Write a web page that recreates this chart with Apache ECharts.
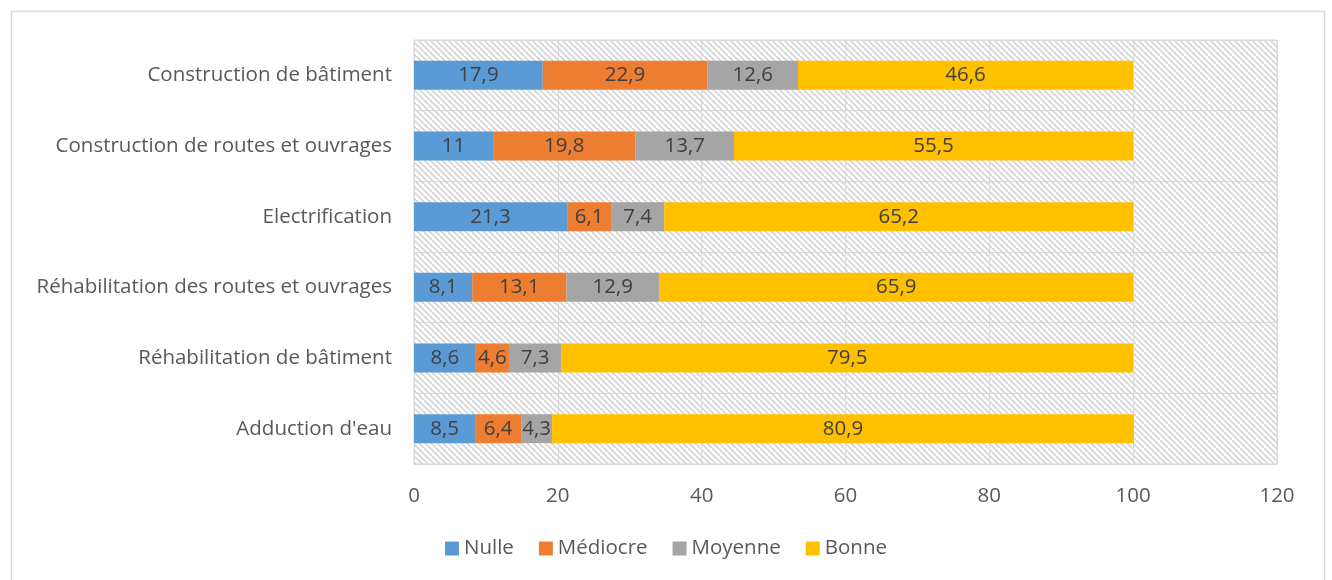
<!DOCTYPE html>
<html>
<head>
<meta charset="utf-8">
<script src="https://cdn.jsdelivr.net/npm/echarts@6/dist/echarts.min.js"></script>
<style>
  html, body { margin: 0; padding: 0; background: #fff; }
  #chart { width: 1332px; height: 580px; }
</style>
</head>
<body>
<div id="chart"></div>
<script>
// categories, top to bottom
const categories = [
  'Construction de bâtiment',
  'Construction de routes et ouvrages',
  'Electrification',
  'Réhabilitation des routes et ouvrages',
  'Réhabilitation de bâtiment',
  "Adduction d'eau"
];
const nulle    = [17.9, 11,   21.3, 8.1,  8.6,  8.5];
const mediocre = [22.9, 19.8, 6.1,  13.1, 4.6,  6.4];
const moyenne  = [12.6, 13.7, 7.4,  12.9, 7.3,  4.3];
const bonne    = [46.6, 55.5, 65.2, 65.9, 79.5, 80.9];
const seriesNames = ['Nulle', 'Médiocre', 'Moyenne', 'Bonne'];
const xTicks = [0, 20, 40, 60, 80, 100, 120];

const colors = ['#5B9BD5', '#ED7D31', '#A5A5A5', '#FFC000'];
const fontFamily = '"Open Sans", "Liberation Sans", sans-serif';
const textColor = '#595959';
const fontSize = 20.5;

// hatched plot background (diagonal light grey lines)
const hatch = document.createElement('canvas');
hatch.width = 6;
hatch.height = 6;
const hctx = hatch.getContext('2d');
hctx.fillStyle = '#ffffff';
hctx.fillRect(0, 0, 6, 6);
hctx.strokeStyle = '#d4d4d4';
hctx.lineWidth = 1.6;
hctx.beginPath();
hctx.moveTo(-1, -1); hctx.lineTo(7, 7);
hctx.moveTo(-4, 2); hctx.lineTo(4, 10);
hctx.moveTo(2, -4); hctx.lineTo(10, 4);
hctx.stroke();

const chart = echarts.init(document.getElementById('chart'));

const makeSeries = (name, data, i) => ({
  name: name,
  type: 'bar',
  stack: 'total',
  data: data,
  barWidth: 29,
  itemStyle: { color: colors[i] },
  label: {
    show: true,
    position: 'inside',
    color: '#404040',
    fontSize: fontSize,
    fontFamily: fontFamily,
    formatter: (p) => String(p.value).replace('.', ',')
  },
  emphasis: { disabled: true }
});

chart.setOption({
  animation: false,
  graphic: [{
    type: 'rect',
    shape: { x: 11.5, y: 11.5, width: 1313, height: 600 },
    style: { fill: 'none', stroke: '#d9d9d9', lineWidth: 1.5 },
    silent: true
  }],
  grid: {
    left: 414,
    right: 55,
    top: 40,
    bottom: 116,
    show: true,
    backgroundColor: { image: hatch, repeat: 'repeat' },
    borderColor: '#d9d9d9',
    borderWidth: 1
  },
  legend: {
    bottom: 16,
    left: 'center',
    itemWidth: 14,
    itemHeight: 14,
    itemGap: 25,
    icon: 'rect',
    textStyle: { color: textColor, fontSize: fontSize, fontFamily: fontFamily },
    data: seriesNames
  },
  xAxis: {
    type: 'value',
    min: xTicks[0],
    max: xTicks[xTicks.length - 1],
    interval: 20,
    axisLine: { show: false },
    axisTick: { show: false },
    axisLabel: { color: textColor, fontSize: fontSize, fontFamily: fontFamily, margin: 22 },
    splitLine: { show: true, lineStyle: { color: '#d9d9d9', width: 1 } }
  },
  yAxis: {
    type: 'category',
    data: categories,
    inverse: true,
    axisLine: { show: false },
    axisTick: { show: false },
    axisLabel: { color: textColor, fontSize: fontSize, fontFamily: fontFamily, margin: 22 },
    splitLine: { show: true, lineStyle: { color: '#d9d9d9', width: 1 } }
  },
  series: [
    makeSeries(seriesNames[0], nulle, 0),
    makeSeries(seriesNames[1], mediocre, 1),
    makeSeries(seriesNames[2], moyenne, 2),
    makeSeries(seriesNames[3], bonne, 3)
  ]
});
</script>
</body>
</html>
